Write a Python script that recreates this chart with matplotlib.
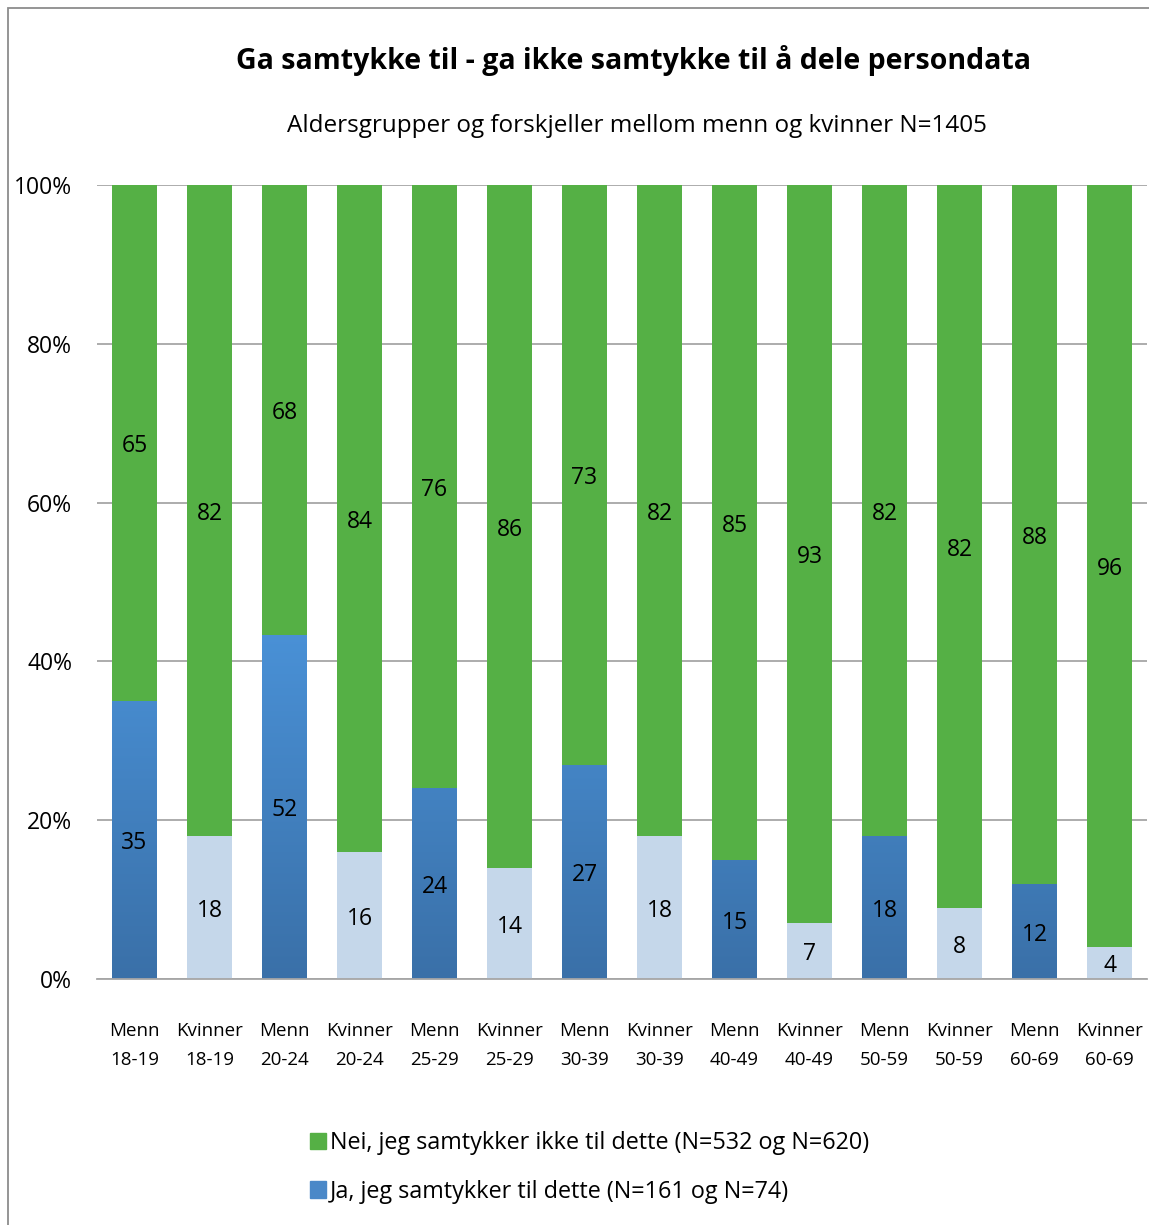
import numpy as np
import matplotlib.pyplot as plt
from matplotlib.patches import Patch, Rectangle
from matplotlib.colors import LinearSegmentedColormap

plt.rcParams['font.family'] = ['Open Sans', 'DejaVu Sans']

# data
kategorier = ['Menn\n18-19', 'Kvinner\n18-19', 'Menn\n20-24', 'Kvinner\n20-24',
              'Menn\n25-29', 'Kvinner\n25-29', 'Menn\n30-39', 'Kvinner\n30-39',
              'Menn\n40-49', 'Kvinner\n40-49', 'Menn\n50-59', 'Kvinner\n50-59',
              'Menn\n60-69', 'Kvinner\n60-69']
ja = [35, 18, 52, 16, 24, 14, 27, 18, 15, 7, 18, 8, 12, 4]
nei = [65, 82, 68, 84, 76, 86, 73, 82, 85, 93, 82, 82, 88, 96]
er_menn = [True, False] * 7

ja = np.array(ja, dtype=float)
nei = np.array(nei, dtype=float)
tot = ja + nei
ja_andel = ja / tot
nei_andel = nei / tot

gronn = '#55B045'
lysbla = '#C5D7EA'
bla_cmap = LinearSegmentedColormap.from_list('bla', ['#3A70A8', '#4A92D8'])

fig = plt.figure(figsize=(11.49, 12.25), dpi=100)
ax = fig.add_axes([97/1149, 1 - 979/1225, 1050/1149, 794/1225])

x = np.arange(len(kategorier))
w = 0.587

bars_ja = ax.bar(x, ja_andel, w, color=[('#4A88C8' if m else lysbla) for m in er_menn], zorder=2)
bars_nei = ax.bar(x, nei_andel, w, bottom=ja_andel, color=gronn, zorder=2)

# gradient paa blaa soyler
grad = np.linspace(0, 1, 256).reshape(-1, 1)
for b, m in zip(bars_ja, er_menn):
    if not m:
        continue
    x0 = b.get_x()
    im = ax.imshow(grad, cmap=bla_cmap, origin='lower', aspect='auto',
                   extent=[x0, x0 + b.get_width(), 0, 0.45], zorder=2.5)
    im.set_clip_path(b)

for i in range(len(x)):
    ax.text(x[i], ja_andel[i] / 2 - 0.004, '%d' % ja[i], ha='center', va='center',
            fontsize=16.5, zorder=4)
    ax.text(x[i], ja_andel[i] + nei_andel[i] / 2 - 0.004, '%d' % nei[i], ha='center',
            va='center', fontsize=16.5, zorder=4)

ax.set_xlim(-0.5, len(x) - 0.5)
ax.set_ylim(0, 1)
ax.set_yticks(np.arange(0, 1.01, 0.2))
ax.set_yticklabels(['%d%%' % v for v in range(0, 101, 20)], fontsize=16.5)
ax.yaxis.grid(True, color='#A6A6A6', linewidth=1.3, zorder=0)
ax.set_axisbelow(True)
ax.set_xticks(x)
ax.set_xticklabels(kategorier, fontsize=13.5, linespacing=1.8)
ax.tick_params(axis='x', length=0, pad=31)
ax.tick_params(axis='y', length=0, pad=18)
for s in ['top', 'right', 'left']:
    ax.spines[s].set_visible(False)
ax.spines['bottom'].set_color('#A6A6A6')
ax.spines['bottom'].set_linewidth(1.3)

fig.text(633/1149, 1 - 60/1225, 'Ga samtykke til - ga ikke samtykke til å dele persondata',
         ha='center', va='center', fontsize=20.5, fontweight='bold')
fig.text(637/1149, 1 - 126/1225, 'Aldersgrupper og forskjeller mellom menn og kvinner N=1405',
         ha='center', va='center', fontsize=17.5)

handles = [Patch(color=gronn), Patch(color='#4A88C8')]
fig.legend(handles, ['Nei, jeg samtykker ikke til dette (N=532 og N=620)',
                     'Ja, jeg samtykker til dette (N=161 og N=74)'],
           loc='upper left', bbox_to_anchor=(289/1149, 1 - 1110/1225), frameon=False,
           fontsize=16.8, handlelength=0.7, handleheight=0.7, handletextpad=0.15,
           labelspacing=1.05)

fig.patches.append(Rectangle((8/1149, -0.1), 1.2, 1 - 8/1225 + 0.1, transform=fig.transFigure,
                             fill=False, edgecolor='#8C8C8C', linewidth=1.3))

fig.savefig('out.png', dpi=100)
